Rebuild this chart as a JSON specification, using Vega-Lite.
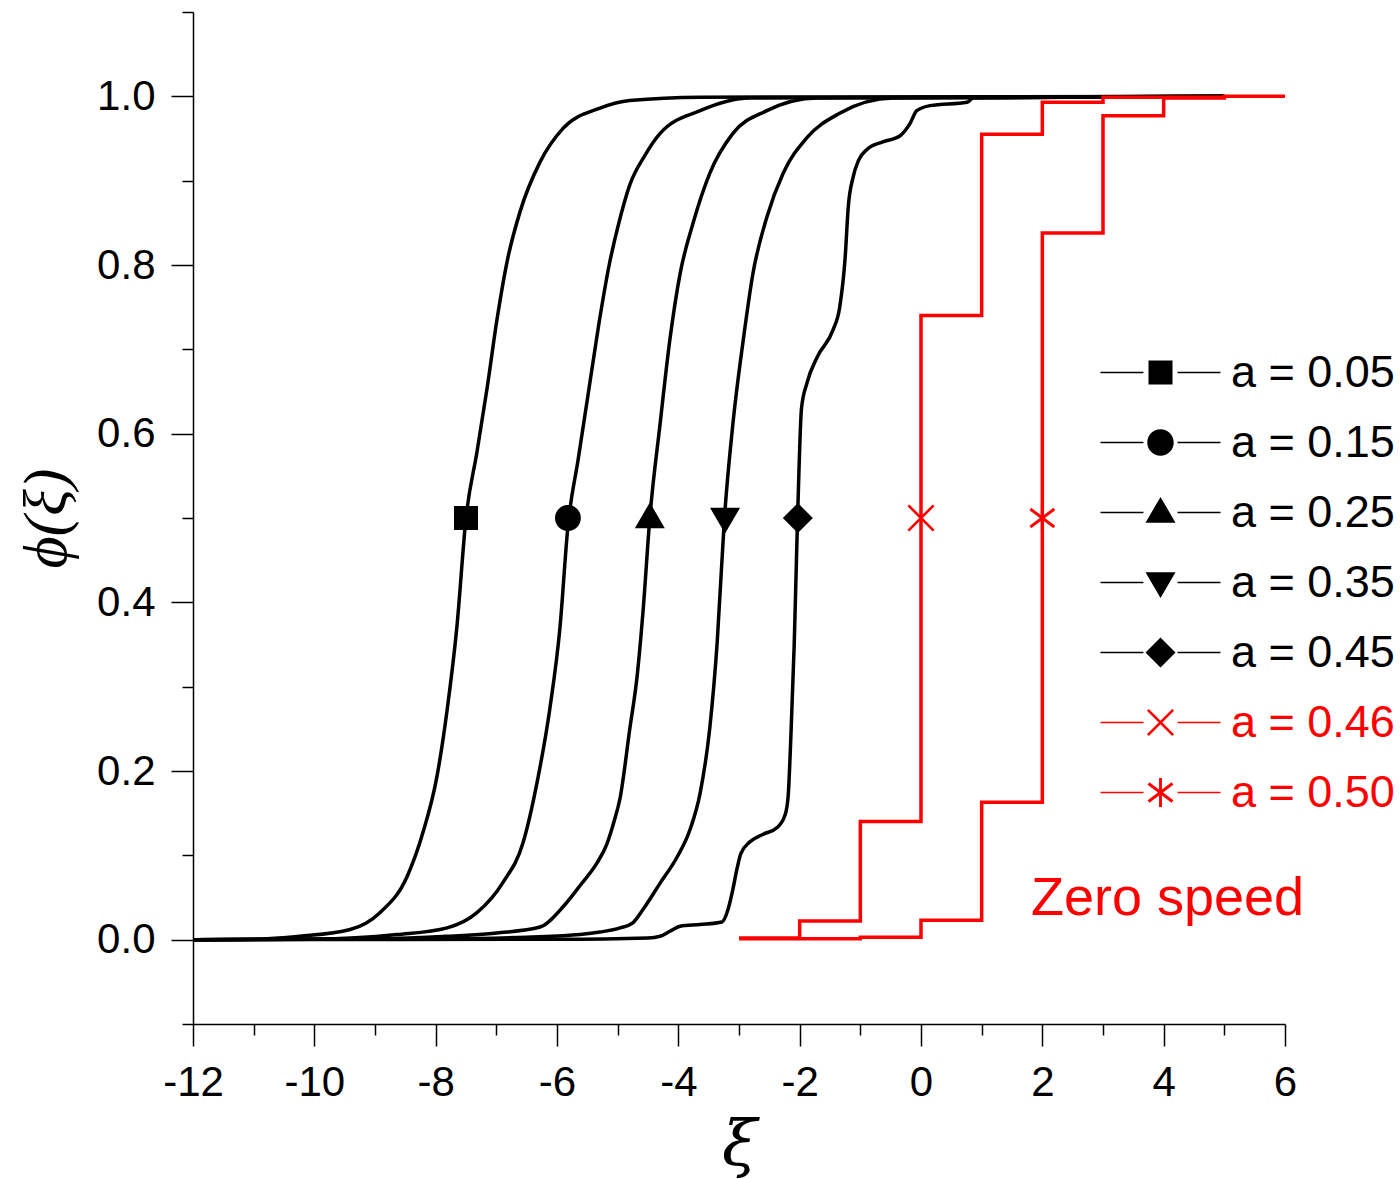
{
  "$schema": "https://vega.github.io/schema/vega-lite/v6.json",
  "width": 1092,
  "height": 1012,
  "autosize": {"type": "none"},
  "padding": {"left": 193, "top": 12, "right": 115, "bottom": 155},
  "background": "white",
  "config": {
    "view": {"stroke": null},
    "axis": {
      "grid": false,
      "domainColor": "black",
      "tickColor": "black",
      "labelColor": "black",
      "titleColor": "black",
      "labelFont": "Liberation Sans",
      "labelFontSize": 42,
      "domainWidth": 1.5,
      "tickWidth": 1.5,
      "labelFlush": false,
      "labelOverlap": false,
      "labelPadding": 16
    }
  },
  "datasets": {
    "black": [
      {"s": "a = 0.05", "x": -12, "y": 0}, {"s": "a = 0.05", "x": -11, "y": 0.0005}, {"s": "a = 0.05", "x": -10.24, "y": 0.004}, {"s": "a = 0.05", "x": -9.41, "y": 0.012}, {"s": "a = 0.05", "x": -8.92, "y": 0.032}, {"s": "a = 0.05", "x": -8.47, "y": 0.075}, {"s": "a = 0.05", "x": -8.21, "y": 0.127}, {"s": "a = 0.05", "x": -7.98, "y": 0.193}, {"s": "a = 0.05", "x": -7.81, "y": 0.273}, {"s": "a = 0.05", "x": -7.65, "y": 0.371}, {"s": "a = 0.05", "x": -7.5, "y": 0.5}, {"s": "a = 0.05", "x": -7.32, "y": 0.578}, {"s": "a = 0.05", "x": -7.15, "y": 0.655}, {"s": "a = 0.05", "x": -6.99, "y": 0.735}, {"s": "a = 0.05", "x": -6.82, "y": 0.805}, {"s": "a = 0.05", "x": -6.61, "y": 0.863}, {"s": "a = 0.05", "x": -6.28, "y": 0.922}, {"s": "a = 0.05", "x": -5.9, "y": 0.962}, {"s": "a = 0.05", "x": -5.29, "y": 0.986}, {"s": "a = 0.05", "x": -4.8, "y": 0.995}, {"s": "a = 0.05", "x": -3.64, "y": 0.999}, {"s": "a = 0.05", "x": 5, "y": 1},
      {"s": "a = 0.15", "x": -12, "y": 0}, {"s": "a = 0.15", "x": -10, "y": 0.0005}, {"s": "a = 0.15", "x": -8.64, "y": 0.006}, {"s": "a = 0.15", "x": -7.81, "y": 0.014}, {"s": "a = 0.15", "x": -7.32, "y": 0.032}, {"s": "a = 0.15", "x": -6.89, "y": 0.068}, {"s": "a = 0.15", "x": -6.56, "y": 0.115}, {"s": "a = 0.15", "x": -6.33, "y": 0.186}, {"s": "a = 0.15", "x": -6.12, "y": 0.273}, {"s": "a = 0.15", "x": -5.95, "y": 0.371}, {"s": "a = 0.15", "x": -5.82, "y": 0.49}, {"s": "a = 0.15", "x": -5.65, "y": 0.57}, {"s": "a = 0.15", "x": -5.48, "y": 0.65}, {"s": "a = 0.15", "x": -5.31, "y": 0.73}, {"s": "a = 0.15", "x": -5.14, "y": 0.8}, {"s": "a = 0.15", "x": -4.98, "y": 0.85}, {"s": "a = 0.15", "x": -4.8, "y": 0.895}, {"s": "a = 0.15", "x": -4.55, "y": 0.93}, {"s": "a = 0.15", "x": -4.3, "y": 0.956}, {"s": "a = 0.15", "x": -3.64, "y": 0.983}, {"s": "a = 0.15", "x": -2.82, "y": 0.998}, {"s": "a = 0.15", "x": 5, "y": 1},
      {"s": "a = 0.25", "x": -12, "y": 0}, {"s": "a = 0.25", "x": -9, "y": 0.001}, {"s": "a = 0.25", "x": -7.81, "y": 0.004}, {"s": "a = 0.25", "x": -6.99, "y": 0.008}, {"s": "a = 0.25", "x": -6.28, "y": 0.015}, {"s": "a = 0.25", "x": -5.9, "y": 0.039}, {"s": "a = 0.25", "x": -5.6, "y": 0.066}, {"s": "a = 0.25", "x": -5.34, "y": 0.091}, {"s": "a = 0.25", "x": -5.18, "y": 0.113}, {"s": "a = 0.25", "x": -5.06, "y": 0.14}, {"s": "a = 0.25", "x": -4.96, "y": 0.168}, {"s": "a = 0.25", "x": -4.8, "y": 0.25}, {"s": "a = 0.25", "x": -4.68, "y": 0.312}, {"s": "a = 0.25", "x": -4.58, "y": 0.391}, {"s": "a = 0.25", "x": -4.47, "y": 0.5}, {"s": "a = 0.25", "x": -4.3, "y": 0.612}, {"s": "a = 0.25", "x": -4.14, "y": 0.711}, {"s": "a = 0.25", "x": -3.97, "y": 0.79}, {"s": "a = 0.25", "x": -3.76, "y": 0.849}, {"s": "a = 0.25", "x": -3.48, "y": 0.909}, {"s": "a = 0.25", "x": -3.1, "y": 0.956}, {"s": "a = 0.25", "x": -2.54, "y": 0.983}, {"s": "a = 0.25", "x": -1.71, "y": 0.998}, {"s": "a = 0.25", "x": 5, "y": 1},
      {"s": "a = 0.35", "x": -12, "y": 0}, {"s": "a = 0.35", "x": -8, "y": 0.001}, {"s": "a = 0.35", "x": -6.5, "y": 0.003}, {"s": "a = 0.35", "x": -5.62, "y": 0.006}, {"s": "a = 0.35", "x": -5.29, "y": 0.009}, {"s": "a = 0.35", "x": -4.96, "y": 0.014}, {"s": "a = 0.35", "x": -4.75, "y": 0.02}, {"s": "a = 0.35", "x": -4.58, "y": 0.036}, {"s": "a = 0.35", "x": -4.3, "y": 0.067}, {"s": "a = 0.35", "x": -4.02, "y": 0.098}, {"s": "a = 0.35", "x": -3.81, "y": 0.13}, {"s": "a = 0.35", "x": -3.64, "y": 0.174}, {"s": "a = 0.35", "x": -3.48, "y": 0.252}, {"s": "a = 0.35", "x": -3.36, "y": 0.352}, {"s": "a = 0.35", "x": -3.24, "y": 0.5}, {"s": "a = 0.35", "x": -3.1, "y": 0.612}, {"s": "a = 0.35", "x": -2.93, "y": 0.711}, {"s": "a = 0.35", "x": -2.77, "y": 0.79}, {"s": "a = 0.35", "x": -2.54, "y": 0.857}, {"s": "a = 0.35", "x": -2.27, "y": 0.909}, {"s": "a = 0.35", "x": -1.88, "y": 0.951}, {"s": "a = 0.35", "x": -1.34, "y": 0.98}, {"s": "a = 0.35", "x": -0.46, "y": 0.998}, {"s": "a = 0.35", "x": 5, "y": 1},
      {"s": "a = 0.45", "x": -12, "y": 0}, {"s": "a = 0.45", "x": -6, "y": 0.0005}, {"s": "a = 0.45", "x": -4.5, "y": 0.002}, {"s": "a = 0.45", "x": -4.3, "y": 0.004}, {"s": "a = 0.45", "x": -4.14, "y": 0.01}, {"s": "a = 0.45", "x": -3.97, "y": 0.016}, {"s": "a = 0.45", "x": -3.64, "y": 0.018}, {"s": "a = 0.45", "x": -3.28, "y": 0.021}, {"s": "a = 0.45", "x": -3.18, "y": 0.036}, {"s": "a = 0.45", "x": -3.1, "y": 0.06}, {"s": "a = 0.45", "x": -3.03, "y": 0.085}, {"s": "a = 0.45", "x": -2.97, "y": 0.102}, {"s": "a = 0.45", "x": -2.82, "y": 0.116}, {"s": "a = 0.45", "x": -2.6, "y": 0.125}, {"s": "a = 0.45", "x": -2.37, "y": 0.133}, {"s": "a = 0.45", "x": -2.24, "y": 0.148}, {"s": "a = 0.45", "x": -2.19, "y": 0.17}, {"s": "a = 0.45", "x": -2.14, "y": 0.25}, {"s": "a = 0.45", "x": -2.09, "y": 0.35}, {"s": "a = 0.45", "x": -2.04, "y": 0.486}, {"s": "a = 0.45", "x": -2.01, "y": 0.56}, {"s": "a = 0.45", "x": -1.97, "y": 0.63}, {"s": "a = 0.45", "x": -1.88, "y": 0.66}, {"s": "a = 0.45", "x": -1.71, "y": 0.691}, {"s": "a = 0.45", "x": -1.45, "y": 0.723}, {"s": "a = 0.45", "x": -1.34, "y": 0.75}, {"s": "a = 0.45", "x": -1.25, "y": 0.809}, {"s": "a = 0.45", "x": -1.2, "y": 0.868}, {"s": "a = 0.45", "x": -1.12, "y": 0.904}, {"s": "a = 0.45", "x": -1.03, "y": 0.924}, {"s": "a = 0.45", "x": -0.89, "y": 0.937}, {"s": "a = 0.45", "x": -0.63, "y": 0.946}, {"s": "a = 0.45", "x": -0.35, "y": 0.953}, {"s": "a = 0.45", "x": -0.18, "y": 0.968}, {"s": "a = 0.45", "x": -0.07, "y": 0.983}, {"s": "a = 0.45", "x": 0.15, "y": 0.989}, {"s": "a = 0.45", "x": 0.76, "y": 0.993}, {"s": "a = 0.45", "x": 0.86, "y": 0.998}, {"s": "a = 0.45", "x": 3, "y": 0.999}
    ],
    "red": [
      {"s": "a = 0.46", "x": -3, "y": 0.002}, {"s": "a = 0.46", "x": -2, "y": 0.022}, {"s": "a = 0.46", "x": -1, "y": 0.14}, {"s": "a = 0.46", "x": 0, "y": 0.74}, {"s": "a = 0.46", "x": 1, "y": 0.955}, {"s": "a = 0.46", "x": 2, "y": 0.993}, {"s": "a = 0.46", "x": 3, "y": 0.999}, {"s": "a = 0.46", "x": 5, "y": 1},
      {"s": "a = 0.50", "x": -3, "y": 0.001}, {"s": "a = 0.50", "x": -1, "y": 0.003}, {"s": "a = 0.50", "x": 0, "y": 0.023}, {"s": "a = 0.50", "x": 1, "y": 0.163}, {"s": "a = 0.50", "x": 2, "y": 0.838}, {"s": "a = 0.50", "x": 3, "y": 0.977}, {"s": "a = 0.50", "x": 4, "y": 0.998}, {"s": "a = 0.50", "x": 5, "y": 1}, {"s": "a = 0.50", "x": 6, "y": 1}
    ],
    "markers": [
      {"s": "a = 0.05", "x": -7.5, "y": 0.5},
      {"s": "a = 0.15", "x": -5.82, "y": 0.5},
      {"s": "a = 0.25", "x": -4.47, "y": 0.5},
      {"s": "a = 0.35", "x": -3.23, "y": 0.5},
      {"s": "a = 0.45", "x": -2.03, "y": 0.5},
      {"s": "a = 0.46", "x": 0, "y": 0.5},
      {"s": "a = 0.50", "x": 2, "y": 0.5}
    ]
  },
  "layer": [
    {
      "data": {"name": "black"},
      "mark": {"type": "line", "interpolate": "monotone", "color": "black", "strokeWidth": 3.5},
      "encoding": {
        "x": {"field": "x", "type": "quantitative", "scale": {"domain": [-12, 6], "nice": false, "zero": false},
          "axis": {"orient": "bottom", "values": [-12, -10, -8, -6, -4, -2, 0, 2, 4, 6], "tickSize": 22, "labelExpr": "'' + datum.value",
            "title": "ξ", "titleFont": "DejaVu Serif, Liberation Serif", "titleFontStyle": "italic", "titleFontWeight": "normal", "titleFontSize": 64, "titlePadding": 10}},
        "y": {"field": "y", "type": "quantitative", "scale": {"domain": [-0.1, 1.1], "nice": false, "zero": false},
          "axis": {"orient": "left", "values": [0, 0.2, 0.4, 0.6, 0.8, 1], "tickSize": 22, "format": ".1f",
            "title": "ϕ(ξ)", "titleFont": "Liberation Serif, DejaVu Serif", "titleFontStyle": "italic", "titleFontWeight": "normal", "titleFontSize": 62, "titlePadding": 18}},
        "detail": {"field": "s", "type": "nominal"}
      }
    },
    {
      "data": {"name": "red"},
      "mark": {"type": "line", "interpolate": "step-after", "color": "#ff0000", "strokeWidth": 3.5},
      "encoding": {
        "x": {"field": "x", "type": "quantitative",
          "axis": {"orient": "bottom", "values": [-11, -9, -7, -5, -3, -1, 1, 3, 5], "tickSize": 11, "labels": false, "domain": false, "title": null}},
        "y": {"field": "y", "type": "quantitative",
          "axis": {"orient": "left", "values": [-0.1, 0.1, 0.3, 0.5, 0.7, 0.9, 1.1], "tickSize": 11, "labels": false, "domain": false, "title": null}},
        "detail": {"field": "s", "type": "nominal"}
      }
    },
    {
      "data": {"name": "markers"},
      "transform": [{"filter": "datum.s === 'a = 0.05'"}],
      "mark": {"type": "point", "filled": true, "size": 576, "opacity": 1, "color": "#000000", "shape": "M -1 -1 L 1 -1 L 1 1 L -1 1 Z"},
      "encoding": {"x": {"field": "x", "type": "quantitative", "axis": null}, "y": {"field": "y", "type": "quantitative", "axis": null}}
    },
    {
      "data": {"name": "markers"},
      "transform": [{"filter": "datum.s === 'a = 0.15'"}],
      "mark": {"type": "point", "filled": true, "size": 576, "opacity": 1, "color": "#000000", "shape": "M 1.08 0 A 1.08 1.08 0 1 1 -1.08 0 A 1.08 1.08 0 1 1 1.08 0 Z"},
      "encoding": {"x": {"field": "x", "type": "quantitative", "axis": null}, "y": {"field": "y", "type": "quantitative", "axis": null}}
    },
    {
      "data": {"name": "markers"},
      "transform": [{"filter": "datum.s === 'a = 0.25'"}],
      "mark": {"type": "point", "filled": true, "size": 576, "opacity": 1, "color": "#000000", "shape": "M 0 -1.3 L 1.25 0.85 L -1.25 0.85 Z"},
      "encoding": {"x": {"field": "x", "type": "quantitative", "axis": null}, "y": {"field": "y", "type": "quantitative", "axis": null}}
    },
    {
      "data": {"name": "markers"},
      "transform": [{"filter": "datum.s === 'a = 0.35'"}],
      "mark": {"type": "point", "filled": true, "size": 576, "opacity": 1, "color": "#000000", "shape": "M -1.25 -0.85 L 1.25 -0.85 L 0 1.3 Z"},
      "encoding": {"x": {"field": "x", "type": "quantitative", "axis": null}, "y": {"field": "y", "type": "quantitative", "axis": null}}
    },
    {
      "data": {"name": "markers"},
      "transform": [{"filter": "datum.s === 'a = 0.45'"}],
      "mark": {"type": "point", "filled": true, "size": 576, "opacity": 1, "color": "#000000", "shape": "M 0 -1.25 L 1.25 0 L 0 1.25 L -1.25 0 Z"},
      "encoding": {"x": {"field": "x", "type": "quantitative", "axis": null}, "y": {"field": "y", "type": "quantitative", "axis": null}}
    },
    {
      "data": {"name": "markers"},
      "transform": [{"filter": "datum.s === 'a = 0.46'"}],
      "mark": {"type": "point", "filled": true, "size": 576, "opacity": 1, "color": "#ff0000", "shape": "M -1.128 -0.972 L -0.972 -1.128 L 1.128 0.972 L 0.972 1.128 Z M -0.972 1.128 L -1.128 0.972 L 0.972 -1.128 L 1.128 -0.972 Z"},
      "encoding": {"x": {"field": "x", "type": "quantitative", "axis": null}, "y": {"field": "y", "type": "quantitative", "axis": null}}
    },
    {
      "data": {"name": "markers"},
      "transform": [{"filter": "datum.s === 'a = 0.50'"}],
      "mark": {"type": "point", "filled": true, "size": 576, "opacity": 1, "color": "#ff0000", "shape": "M -0.12 -1.2 L 0.12 -1.2 L 0.12 1.2 L -0.12 1.2 Z M -1.072 -0.654 L -0.928 -0.846 L 1.072 0.654 L 0.928 0.846 Z M -0.928 0.846 L -1.072 0.654 L 0.928 -0.846 L 1.072 -0.654 Z"},
      "encoding": {"x": {"field": "x", "type": "quantitative", "axis": null}, "y": {"field": "y", "type": "quantitative", "axis": null}}
    },
    {
      "data": {"name": "markers"},
      "mark": {"type": "point", "filled": true, "size": 0, "opacity": 1},
      "encoding": {
        "x": {"field": "x", "type": "quantitative", "axis": null},
        "y": {"field": "y", "type": "quantitative", "axis": null},
        "color": {"field": "s", "type": "nominal",
          "scale": {"domain": ["a = 0.05", "a = 0.15", "a = 0.25", "a = 0.35", "a = 0.45", "a = 0.46", "a = 0.50"],
            "range": ["#000000", "#000000", "#000000", "#000000", "#000000", "#ff0000", "#ff0000"]},
          "legend": {
            "title": null, "orient": "none", "legendX": 945, "legendY": 338, "padding": 0, "offset": 0,
            "symbolSize": 576, "symbolStrokeWidth": 0, "symbolFillColor": "#000000",
            "labelFont": "Liberation Sans", "labelFontSize": 45, "labelOffset": 48, "labelLimit": 0, "rowPadding": 24,
            "labelColor": {"expr": "(datum.value === 'a = 0.46' || datum.value === 'a = 0.50') ? '#ff0000' : '#000000'"}
          }},
        "shape": {"field": "s", "type": "nominal",
          "scale": {"domain": ["a = 0.05", "a = 0.15", "a = 0.25", "a = 0.35", "a = 0.45", "a = 0.46", "a = 0.50"],
            "range": [
              "M -5 -0.07 L -1.42 -0.07 L -1.42 0.07 L -5 0.07 Z M 1.42 -0.07 L 5 -0.07 L 5 0.07 L 1.42 0.07 Z M -1 -1 L 1 -1 L 1 1 L -1 1 Z",
              "M -5 -0.07 L -1.42 -0.07 L -1.42 0.07 L -5 0.07 Z M 1.42 -0.07 L 5 -0.07 L 5 0.07 L 1.42 0.07 Z M 1.1 0 A 1.1 1.1 0 1 1 -1.1 0 A 1.1 1.1 0 1 1 1.1 0 Z",
              "M -5 -0.07 L -1.42 -0.07 L -1.42 0.07 L -5 0.07 Z M 1.42 -0.07 L 5 -0.07 L 5 0.07 L 1.42 0.07 Z M 0 -1.3 L 1.25 0.85 L -1.25 0.85 Z",
              "M -5 -0.07 L -1.42 -0.07 L -1.42 0.07 L -5 0.07 Z M 1.42 -0.07 L 5 -0.07 L 5 0.07 L 1.42 0.07 Z M -1.25 -0.85 L 1.25 -0.85 L 0 1.3 Z",
              "M -5 -0.07 L -1.42 -0.07 L -1.42 0.07 L -5 0.07 Z M 1.42 -0.07 L 5 -0.07 L 5 0.07 L 1.42 0.07 Z M 0 -1.25 L 1.25 0 L 0 1.25 L -1.25 0 Z",
              "M -5 -0.07 L -1.42 -0.07 L -1.42 0.07 L -5 0.07 Z M 1.42 -0.07 L 5 -0.07 L 5 0.07 L 1.42 0.07 Z M -1.128 -0.972 L -0.972 -1.128 L 1.128 0.972 L 0.972 1.128 Z M -0.972 1.128 L -1.128 0.972 L 0.972 -1.128 L 1.128 -0.972 Z",
              "M -5 -0.07 L -1.42 -0.07 L -1.42 0.07 L -5 0.07 Z M 1.42 -0.07 L 5 -0.07 L 5 0.07 L 1.42 0.07 Z M -0.12 -1.2 L 0.12 -1.2 L 0.12 1.2 L -0.12 1.2 Z M -1.072 -0.654 L -0.928 -0.846 L 1.072 0.654 L 0.928 0.846 Z M -0.928 0.846 L -1.072 0.654 L 0.928 -0.846 L 1.072 -0.654 Z"
            ]},
          "legend": {
            "title": null, "orient": "none", "legendX": 945, "legendY": 338, "padding": 0, "offset": 0,
            "symbolSize": 576, "symbolStrokeWidth": 0, "symbolFillColor": "#000000",
            "labelFont": "Liberation Sans", "labelFontSize": 45, "labelOffset": 48, "labelLimit": 0, "rowPadding": 24,
            "labelColor": {"expr": "(datum.value === 'a = 0.46' || datum.value === 'a = 0.50') ? '#ff0000' : '#000000'"}
          }
        }
      }
    },
    {
      "data": {"values": [{"label": "Zero speed"}]},
      "mark": {"type": "text", "font": "Liberation Sans", "fontSize": 54, "color": "#ff0000", "align": "left", "baseline": "alphabetic"},
      "encoding": {
        "text": {"field": "label"},
        "x": {"datum": 1.813, "type": "quantitative", "axis": null},
        "y": {"datum": 0.0296, "type": "quantitative", "axis": null}
      }
    }
  ],
  "resolve": {
    "axis": {"x": "independent", "y": "independent"}
  }
}
